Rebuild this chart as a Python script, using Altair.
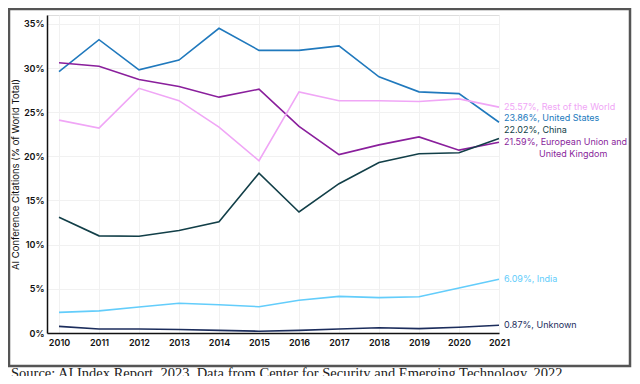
import altair as alt
import pandas as pd

years = list(range(2010, 2022))
series_names = ["United States", "European Union and United Kingdom", "Rest of the World",
                "China", "India", "Unknown"]
us = [29.6, 33.2, 29.8, 30.9, 34.5, 32.0, 32.0, 32.5, 29.0, 27.3, 27.1, 23.86]
eu = [30.6, 30.2, 28.7, 27.9, 26.7, 27.6, 23.4, 20.2, 21.3, 22.2, 20.7, 21.59]
row = [24.1, 23.2, 27.7, 26.3, 23.3, 19.5, 27.3, 26.3, 26.3, 26.2, 26.5, 25.57]
china = [13.1, 11.0, 10.95, 11.6, 12.6, 18.1, 13.7, 16.9, 19.3, 20.3, 20.4, 22.02]
india = [2.34, 2.5, 2.95, 3.36, 3.2, 2.98, 3.7, 4.15, 4.0, 4.1, 5.1, 6.09]
unknown = [0.75, 0.45, 0.45, 0.4, 0.3, 0.2, 0.3, 0.45, 0.6, 0.5, 0.65, 0.87]
colors = ["#2079bd", "#8a1f9c", "#f0a6f6", "#123f48", "#63cdfb", "#1c2d5c"]

label_texts = ["23.86%, United States", "21.59%, European Union and", "25.57%, Rest of the World",
               "22.02%, China", "6.09%, India", "0.87%, Unknown"]
label_offsets = [0.45, 0.0, 0.0, 1.0, 0.05, 0.05]

y_ticks = [0, 5, 10, 15, 20, 25, 30, 35]
source_text = "Source: AI Index Report, 2023. Data from Center for Security and Emerging Technology, 2022"

all_vals = [us, eu, row, china, india, unknown]
rows = []
for name, vals in zip(series_names, all_vals):
    for y, v in zip(years, vals):
        rows.append({"year": y, "value": v, "series": name})
df = pd.DataFrame(rows)

lab = pd.DataFrame({
    "year": [years[-1]] * len(series_names),
    "series": series_names,
    "text": label_texts,
    "ly": [vals[-1] + off for vals, off in zip(all_vals, label_offsets)],
})
lab2 = pd.DataFrame({"year": [years[-1]], "series": [series_names[1]],
                     "text": ["United Kingdom"], "ly": [eu[-1] - 1.27]})

FONT = "Inter"
xscale = alt.Scale(domain=[2009.7, 2021], nice=False, zero=False)
yscale = alt.Scale(domain=[0, 36], nice=False)
cscale = alt.Scale(domain=series_names, range=colors)

lines = alt.Chart(df).mark_line(strokeWidth=1.6).encode(
    x=alt.X("year:Q", scale=xscale,
            axis=alt.Axis(values=years, format="d", title=None, labelFont=FONT, labelFontSize=9,
                          labelFontWeight=600, labelColor="#111", domainColor="#111", domainWidth=1.5,
                          ticks=False, labelPadding=5, grid=True, gridColor="#f1f1f1",
                          labelFlush=False)),
    y=alt.Y("value:Q", scale=yscale,
            axis=alt.Axis(values=y_ticks, labelExpr="datum.value + '%'",
                          title="AI Conference Citations (% of World Total)",
                          titleFont=FONT, titleFontSize=9.5, titleFontWeight="normal", titleColor="#111",
                          titleX=-32, titleY=159, titleAngle=270, titleAlign="center",
                          titleBaseline="middle",
                          labelFont=FONT, labelFontSize=9, labelFontWeight=600,
                          labelColor="#111", domainColor="#111", domainWidth=1.5, ticks=False,
                          labelPadding=3, grid=True, gridColor="#f1f1f1")),
    color=alt.Color("series:N", scale=cscale, legend=None),
    detail="series:N",
)

labels = alt.Chart(lab).mark_text(align="left", baseline="middle", dx=5, font=FONT, fontSize=9).encode(
    x=alt.X("year:Q", scale=xscale),
    y=alt.Y("ly:Q", scale=yscale),
    text="text:N",
    color=alt.Color("series:N", scale=cscale, legend=None),
)
labels2 = alt.Chart(lab2).mark_text(align="left", baseline="middle", dx=40, font=FONT, fontSize=9).encode(
    x=alt.X("year:Q", scale=xscale),
    y=alt.Y("ly:Q", scale=yscale),
    text="text:N",
    color=alt.Color("series:N", scale=cscale, legend=None),
)

frame = alt.Chart(pd.DataFrame({"a": [0]})).mark_rect(
    fill="transparent", stroke="#555555", strokeWidth=2.5
).encode(x=alt.value(-38), x2=alt.value(583), y=alt.value(-6), y2=alt.value(351))

source = alt.Chart(pd.DataFrame({"t": [source_text]})).mark_text(
    align="left", baseline="alphabetic", font="Liberation Serif", fontSize=14.5, color="#222"
).encode(x=alt.value(-36), y=alt.value(363), text="t:N")

chart = alt.layer(frame, lines, labels, labels2, source).properties(
    width=452, height=318,
    autosize=alt.AutoSizeParams(type="none"),
    padding={"left": 39, "top": 7, "right": 133, "bottom": 43},
).configure_view(stroke=None).configure(background="white")

chart.save("out.html", embed_options={"renderer": "svg", "actions": False})
